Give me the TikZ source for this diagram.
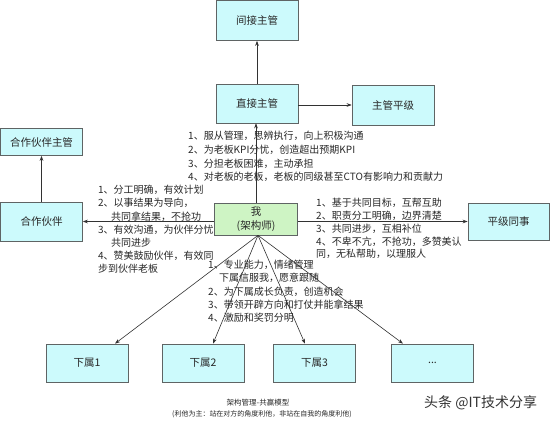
\documentclass[tikz,border=0pt]{standalone}
\usepackage{fontspec}
\newfontfamily\cjk{Noto Sans CJK SC}
\usetikzlibrary{arrows.meta}
\definecolor{boxfill}{RGB}{204,250,252}
\definecolor{mefill}{RGB}{206,244,196}
\definecolor{boxline}{RGB}{95,100,100}
\definecolor{txt}{RGB}{40,40,40}
\definecolor{arr}{RGB}{50,50,50}
\begin{document}
\begin{tikzpicture}[x=1pt,y=-1pt,
  box/.style={draw=boxline, line width=0.7pt, fill=boxfill, minimum width=82pt, minimum height=39pt, inner sep=0pt, text=txt, font=\cjk\fontsize{10.5}{13}\selectfont, align=center},
  conn/.style={draw=arr, line width=0.6pt, -{Stealth[length=5pt,width=3.6pt]}},
  note/.style={anchor=north west, inner sep=0pt, align=left, text=txt, font=\cjk\fontsize{10}{13.3}\selectfont},
  captext/.style={inner sep=0pt, text=txt}
]
\useasboundingbox (0,0) rectangle (550,426);
\fill[white] (0,0) rectangle (550,426);
% boxes
\node[box] (jj) at (257,20.5) [minimum height=40pt] {间接主管};
\node[box] (zj) at (257,103.5) {直接主管};
\node[box] (zgpj) at (393,105) [minimum height=40pt] {主管平级};
\node[box] (hzzg) at (41.5,142) [minimum height=27pt] {合作伙伴主管};
\node[box] (hz) at (41.5,221.5) {合作伙伴};
\node[box, fill=mefill, minimum width=83pt, minimum height=32pt, font=\cjk\fontsize{10.5}{14}\selectfont] (me) at (256,219) {我\\(架构师)};
\node[box] (pj) at (508.5,221.5) [minimum width=81pt, minimum height=37pt] {平级同事};
\node[box] (xs1) at (87,363) [minimum height=38pt] {下属1};
\node[box] (xs2) at (203,363) [minimum height=38pt] {下属2};
\node[box] (xs3) at (314.5,363) [minimum height=38pt] {下属3};
\node[box] (xs4) at (432.5,363) [minimum height=38pt] {...};
% connectors
\draw[conn] (zj.north) -- (jj.south);
\draw[conn] (zj.east |- zgpj.west) -- (zgpj.west);
\draw[conn] (me.north) -- (me.north |- zj.south);
\draw[conn] (me.west |- hz.east) -- (hz.east);
\draw[conn] (me.east |- pj.west) -- (pj.west);
\draw[conn] (hz.north) -- (hzzg.south);
\draw[conn] ([xshift=2pt]me.south) -- ([xshift=28pt]xs1.north);
\draw[conn] ([xshift=2pt]me.south) -- ([xshift=10pt]xs2.north);
\draw[conn] ([xshift=2pt]me.south) -- ([xshift=-9.5pt]xs3.north);
\draw[conn] ([xshift=2pt]me.south) -- ([xshift=-29.5pt]xs4.north);
% notes
\node[note, font=\cjk\fontsize{10}{13.7}\selectfont] (n1) at (188,131) {1、服从管理，思辨执行，向上积极沟通\\2、为老板KPI分忧，创造超出预期KPI\\3、分担老板困难，主动承担\\4、对老板的老板，老板的同级甚至CTO有影响力和贡献力};
\node[note, font=\cjk\fontsize{10}{13.2}\selectfont] (n2) at (98,185) {1、分工明确，有效计划\\2、以事结果为导向，\\\hspace*{1.3em}共同拿结果，不抢功\\3、有效沟通，为伙伴分忧\\\hspace*{1.3em}共同进步\\4、赞美鼓励伙伴，有效同\\步到伙伴老板};
\node[note, font=\cjk\fontsize{10}{12.8}\selectfont] (n3) at (316,198) {1、基于共同目标，互帮互助\\2、职责分工明确，边界清楚\\3、共同进步，互相补位\\4、不卑不亢，不抢功，多赞美认\\同，无私帮助，以理服人};
\node[note, font=\cjk\fontsize{10}{13.3}\selectfont] (n4) at (208,260) {1、专业能力，情绪管理\\\hspace*{1.1em}下属信服我，愿意跟随\\2、为下属成长负责，创造机会\\3、带领开辟方向和打仗并能拿结果\\4、激励和奖罚分明};
% captions
\node[captext, font=\cjk\fontsize{7.5}{9}\selectfont] (t1) at (258,403) {架构管理-共赢模型};
\node[captext, font=\cjk\fontsize{7}{9}\selectfont] (t2) at (262,414) {(利他为主：站在对方的角度利他，非站在自我的角度利他)};
\node[captext, font=\cjk\fontsize{14}{16}\selectfont, text=black!80, anchor=west] (wm) at (424,403) {头条 @IT技术分享};
\end{tikzpicture}
\end{document}
